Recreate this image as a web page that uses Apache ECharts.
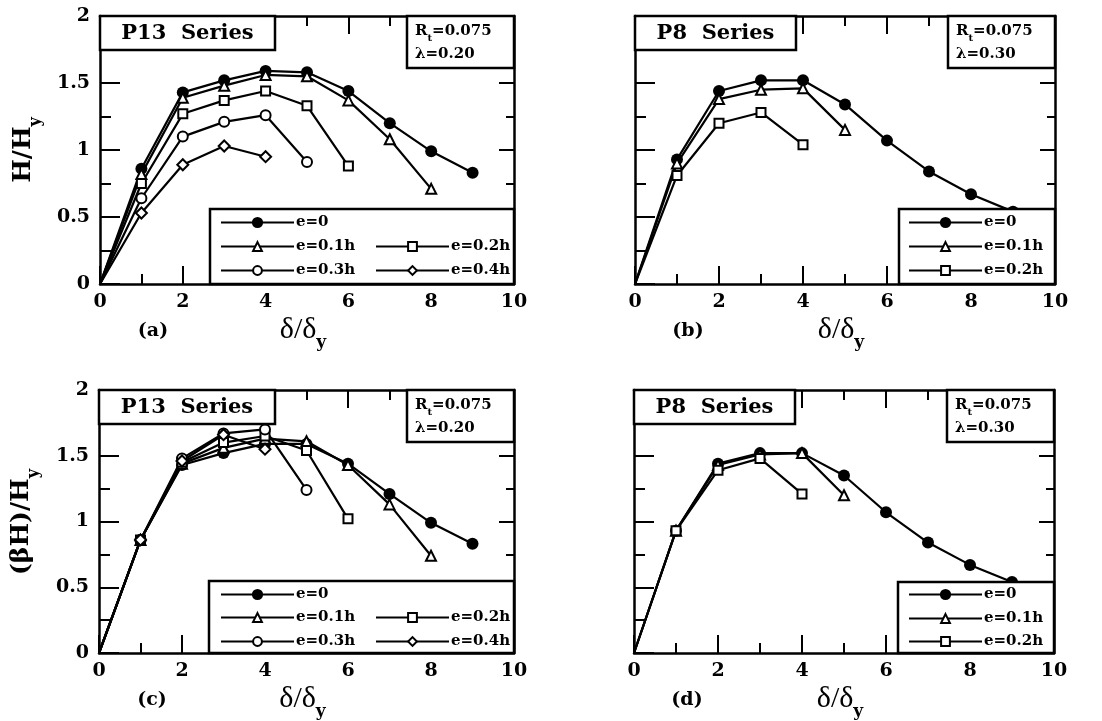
<!DOCTYPE html>
<html>
<head>
<meta charset="utf-8">
<script src="https://cdn.jsdelivr.net/npm/echarts@6/dist/echarts.min.js"></script>
<style>
  html, body { margin: 0; padding: 0; background: #fff; }
  #chart { width: 1102px; height: 721px; }
</style>
</head>
<body>
<div id="chart"></div>
<script>
// ductility steps (delta / delta_y)
var ductility = [0, 1, 2, 3, 4, 5, 6, 7, 8, 9];
var seriesNames = ['e=0', 'e=0.1h', 'e=0.2h', 'e=0.3h', 'e=0.4h'];

// (a) P13 series, H/Hy
var aE0 = [0, 0.86, 1.43, 1.52, 1.59, 1.58, 1.44, 1.20, 0.99, 0.83];
var aE1 = [0, 0.82, 1.39, 1.48, 1.56, 1.55, 1.37, 1.08, 0.71];
var aE2 = [0, 0.75, 1.27, 1.37, 1.44, 1.33, 0.88];
var aE3 = [0, 0.64, 1.10, 1.21, 1.26, 0.91];
var aE4 = [0, 0.53, 0.89, 1.03, 0.95];

// (b) P8 series, H/Hy
var bE0 = [0, 0.93, 1.44, 1.52, 1.52, 1.34, 1.07, 0.84, 0.67, 0.54];
var bE1 = [0, 0.90, 1.38, 1.45, 1.46, 1.15];
var bE2 = [0, 0.81, 1.20, 1.28, 1.04];

// (c) P13 series, (beta H)/Hy
var cE0 = [0, 0.86, 1.43, 1.52, 1.59, 1.59, 1.44, 1.21, 0.99, 0.83];
var cE1 = [0, 0.86, 1.44, 1.56, 1.63, 1.61, 1.43, 1.13, 0.74];
var cE2 = [0, 0.86, 1.45, 1.60, 1.65, 1.54, 1.02];
var cE3 = [0, 0.86, 1.48, 1.67, 1.70, 1.24];
var cE4 = [0, 0.86, 1.46, 1.66, 1.55];

// (d) P8 series, (beta H)/Hy
var dE0 = [0, 0.93, 1.44, 1.52, 1.52, 1.35, 1.07, 0.84, 0.67, 0.54];
var dE1 = [0, 0.93, 1.43, 1.51, 1.52, 1.20];
var dE2 = [0, 0.93, 1.39, 1.48, 1.21];

var FONT = 'DejaVu Serif';
var chart = echarts.init(document.getElementById('chart'));

var grids = [
  {left: 100, top: 16, width: 414, height: 268},
  {left: 635, top: 16, width: 420, height: 268},
  {left: 99, top: 390, width: 415, height: 263},
  {left: 634, top: 390, width: 420, height: 263}
];

var marker = [
  {symbol: 'circle', size: 12, fill: '#000', leg: 14},
  {symbol: 'triangle', size: 10, fill: '#fff', leg: 11},
  {symbol: 'rect', size: 9, fill: '#fff', leg: 11},
  {symbol: 'circle', size: 10, fill: '#fff', leg: 11},
  {symbol: 'diamond', size: 11, fill: '#fff', leg: 11}
];

var xAxes = [], yAxes = [];
grids.forEach(function (g, i) {
  [['bottom', true], ['top', false]].forEach(function (p) {
    xAxes.push({
      type: 'value', gridIndex: i, position: p[0], min: 0, max: 10, interval: 2,
      axisLine: {show: true, onZero: false, lineStyle: {color: '#000', width: 2.5}},
      axisTick: {show: true, inside: true, length: 18, lineStyle: {color: '#000', width: 2}},
      minorTick: {show: true, splitNumber: 2, length: 10, lineStyle: {color: '#000', width: 2}},
      splitLine: {show: false},
      axisLabel: {show: p[1], margin: 9, color: '#000', fontFamily: FONT, fontWeight: 'bold', fontSize: 19}
    });
  });
  [['left', i % 2 === 0], ['right', false]].forEach(function (p) {
    var isLeft = p[0] === 'left';
    yAxes.push({
      type: 'value', gridIndex: i, position: p[0], min: 0, max: 2, interval: 0.5,
      axisLine: {show: true, onZero: false, lineStyle: {color: '#000', width: 2.5}},
      axisTick: {show: true, inside: true, length: isLeft ? 20 : 15, lineStyle: {color: '#000', width: 2}},
      minorTick: {show: true, splitNumber: 2, length: isLeft ? 11 : 8, lineStyle: {color: '#000', width: 2}},
      splitLine: {show: false},
      axisLabel: {show: p[1], margin: 10, color: '#000', fontFamily: FONT, fontWeight: 'bold', fontSize: 19}
    });
  });
});

function line(k, gi, vals) {
  var m = marker[k];
  return {
    type: 'line', name: seriesNames[k],
    xAxisIndex: gi * 2, yAxisIndex: gi * 2,
    data: vals.map(function (v, i) {
      // the origin point carries no marker in the figure
      return i === 0 ? {value: [ductility[i], v], symbol: 'none'} : [ductility[i], v];
    }),
    symbol: m.symbol, symbolSize: m.size, showAllSymbol: true,
    itemStyle: {color: m.fill, borderColor: '#000', borderWidth: k === 0 ? 0 : 2},
    lineStyle: {color: '#000', width: 2.2},
    emphasis: {disabled: true},
    animation: false
  };
}

var series = [
  line(0, 0, aE0), line(1, 0, aE1), line(2, 0, aE2), line(3, 0, aE3), line(4, 0, aE4),
  line(0, 1, bE0), line(1, 1, bE1), line(2, 1, bE2),
  line(0, 2, cE0), line(1, 2, cE1), line(2, 2, cE2), line(3, 2, cE3), line(4, 2, cE4),
  line(0, 3, dE0), line(1, 3, dE1), line(2, 3, dE2)
];

// legends: one component per entry so each sits at its own place
var legends = [];
function addLegend(k, x, yc) {
  legends.push({
    data: [seriesNames[k]], left: x, top: yc - 9, padding: 0,
    itemWidth: 73, itemHeight: marker[k].leg, itemGap: 0, z: 6,
    selectedMode: false,
    textStyle: {color: '#000', fontFamily: FONT, fontWeight: 'bold', fontSize: 15, padding: [0, 0, 0, -3]}
  });
}
// (a)
addLegend(0, 220, 224); addLegend(1, 220, 248); addLegend(2, 375, 248);
addLegend(3, 220, 272); addLegend(4, 375, 272);
// (b)
addLegend(0, 908, 224); addLegend(1, 908, 248); addLegend(2, 908, 272);
// (c)
addLegend(0, 220, 596); addLegend(1, 220, 619); addLegend(2, 375, 619);
addLegend(3, 220, 643); addLegend(4, 375, 643);
// (d)
addLegend(0, 908, 596); addLegend(1, 908, 620); addLegend(2, 908, 643);

var graphics = [];
function box(x, y, w, h, z) {
  graphics.push({type: 'rect', z: z, shape: {x: x, y: y, width: w, height: h},
    style: {fill: '#fff', stroke: '#000', lineWidth: 2.5}});
}
function txt(x, y, text, rich, opts) {
  var o = opts || {};
  graphics.push({type: 'text', z: 10, x: x, y: y, rotation: o.rot || 0,
    style: {text: text, rich: rich, fill: '#000',
      font: o.font || ('bold 20px "' + FONT + '"'),
      textAlign: o.align || 'center', textVerticalAlign: 'middle'}});
}

var richR = {
  b: {fontFamily: FONT, fontWeight: 'bold', fontSize: 15, lineHeight: 23},
  s: {fontFamily: FONT, fontWeight: 'bold', fontSize: 10, lineHeight: 23, verticalAlign: 'bottom'}
};
var richAxis = {
  m: {fontFamily: 'Liberation Serif', fontSize: 30, lineHeight: 30, verticalAlign: 'top'},
  s: {fontFamily: FONT, fontWeight: 'bold', fontSize: 17, lineHeight: 36, verticalAlign: 'bottom'}
};
var richY = {
  m: {fontFamily: FONT, fontWeight: 'bold', fontSize: 25, lineHeight: 27, verticalAlign: 'top'},
  s: {fontFamily: FONT, fontWeight: 'bold', fontSize: 16, lineHeight: 33, verticalAlign: 'bottom'}
};

var panels = [
  {g: grids[0], title: 'P13  Series', tw: 175, lam: '0.20', tag: '(a)', leg: [210, 209, 304, 75]},
  {g: grids[1], title: 'P8  Series', tw: 161, lam: '0.30', tag: '(b)', leg: [899, 209, 156, 75]},
  {g: grids[2], title: 'P13  Series', tw: 176, lam: '0.20', tag: '(c)', leg: [209, 581, 305, 72]},
  {g: grids[3], title: 'P8  Series', tw: 161, lam: '0.30', tag: '(d)', leg: [898, 582, 156, 71]}
];
panels.forEach(function (p) {
  var g = p.g, right = g.left + g.width, bottom = g.top + g.height;
  box(g.left, g.top, p.tw, 34, 8);
  txt(g.left + p.tw / 2, g.top + 18, p.title, null, {font: 'bold 21px "' + FONT + '"'});
  box(right - 107, g.top, 107, 52, 8);
  txt(right - 99, g.top + 27, '{b|R}{s|t}{b|=0.075}\n{b|\u03bb=' + p.lam + '}', richR, {align: 'left'});
  box(p.leg[0], p.leg[1], p.leg[2], p.leg[3], 5);
  txt(g.left + 53, bottom + 47, p.tag, null, {font: 'bold 19px "' + FONT + '"'});
  txt(g.left + g.width / 2 - 4, bottom + 49, '{m|\u03b4/\u03b4}{s|y}', richAxis);
});
txt(27, 150, '{m|H/H}{s|y}', richY, {rot: Math.PI / 2});
txt(25, 522, '{m|(\u03b2H)/H}{s|y}', richY, {rot: Math.PI / 2});

chart.setOption({
  backgroundColor: '#fff',
  animation: false,
  grid: grids,
  xAxis: xAxes,
  yAxis: yAxes,
  legend: legends,
  graphic: graphics,
  series: series
});
</script>
</body>
</html>
